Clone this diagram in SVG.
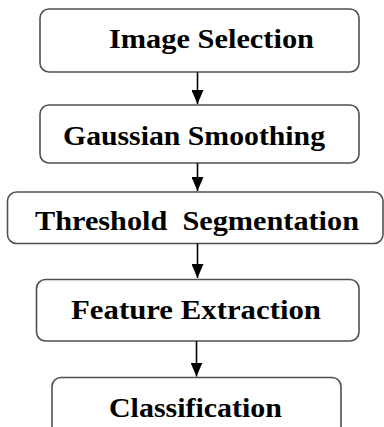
<svg xmlns="http://www.w3.org/2000/svg" width="384" height="427" viewBox="0 0 384 427">
  <style>
    .box { fill: #ffffff; stroke: #505050; stroke-width: 1.6; }
    .link { stroke: #000000; stroke-width: 1.6; fill: none; }
  </style>
  <defs>
    <!-- downward-pointing filled triangle, tip at the end of the line -->
    <marker id="arrow" viewBox="0 0 14 12" refX="14" refY="6" markerWidth="14" markerHeight="12" markerUnits="userSpaceOnUse" orient="auto">
      <path d="M0,0 L14,6 L0,12 Z" fill="#000000"/>
    </marker>
  </defs>
  <rect width="384" height="427" fill="#ffffff"/>

  <g font-family="Liberation Serif, DejaVu Serif, serif" font-weight="bold" font-size="28" fill="#000000">
    <g id="image-selection">
      <rect class="box" x="40" y="9" width="319" height="63" rx="9"/>
      <text x="109" y="47.5" textLength="205" lengthAdjust="spacingAndGlyphs">Image Selection</text>
    </g>

    <g id="gaussian-smoothing">
      <rect class="box" x="40" y="105" width="319" height="58" rx="9"/>
      <text x="63" y="144.5" textLength="262" lengthAdjust="spacingAndGlyphs">Gaussian Smoothing</text>
    </g>

    <g id="threshold-segmentation">
      <rect class="box" x="7.5" y="192" width="375.5" height="51.5" rx="9"/>
      <text x="35" y="229.5" textLength="324" lengthAdjust="spacingAndGlyphs" xml:space="preserve">Threshold  Segmentation</text>
    </g>

    <g id="feature-extraction">
      <rect class="box" x="36.5" y="279.5" width="322.5" height="61.5" rx="9"/>
      <text x="71" y="318.5" textLength="250" lengthAdjust="spacingAndGlyphs">Feature Extraction</text>
    </g>

    <g id="classification">
      <rect class="box" x="52" y="377.5" width="289" height="70" rx="9"/>
      <text x="109" y="416.5" textLength="173" lengthAdjust="spacingAndGlyphs">Classification</text>
    </g>
  </g>

  <g id="connectors">
    <line class="link" x1="197.5" y1="72" x2="197.5" y2="104" marker-end="url(#arrow)"/>
    <line class="link" x1="197.5" y1="163" x2="197.5" y2="191" marker-end="url(#arrow)"/>
    <line class="link" x1="197.5" y1="243.5" x2="197.5" y2="278" marker-end="url(#arrow)"/>
    <line class="link" x1="196.5" y1="341" x2="196.5" y2="376.5" marker-end="url(#arrow)"/>
  </g>
</svg>
